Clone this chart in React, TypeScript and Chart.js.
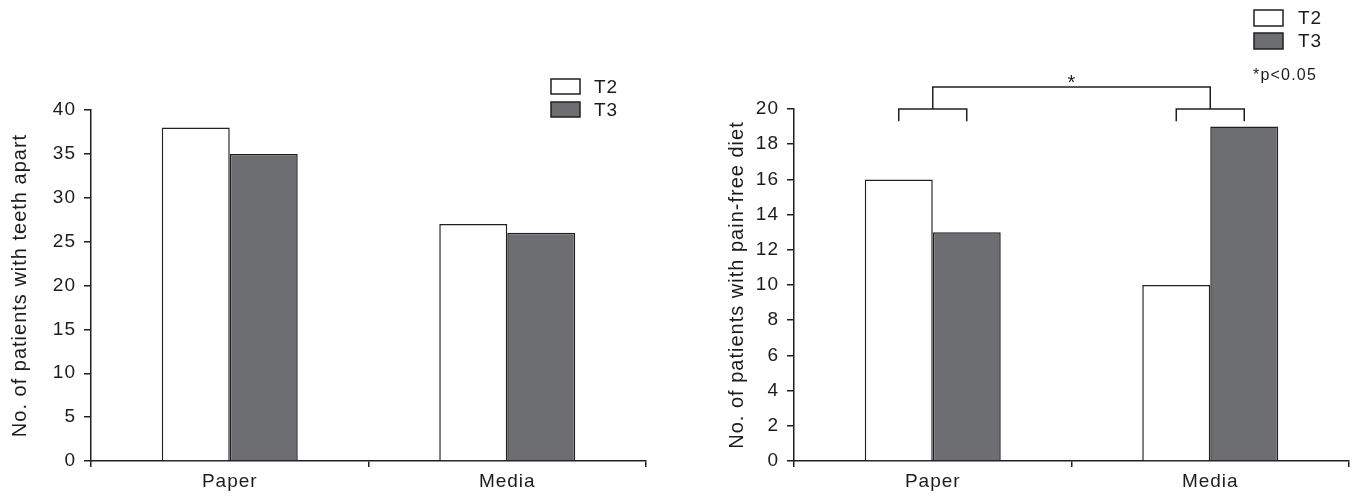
import React, { useEffect, useRef } from "react";
import { Chart, registerables } from "chart.js";

Chart.register(...registerables);

// ---------- data ----------
const categories = ["Paper", "Media"];
const seriesLabels = ["T2", "T3"];
const teethApartT2 = [38, 27];
const teethApartT3 = [35, 26];
const painFreeT2 = [16, 10];
const painFreeT3 = [13, 19];
const leftAxis = { min: 0, max: 40, step: 5, title: "No. of patients with teeth apart" };
const rightAxis = { min: 0, max: 20, step: 2, title: "No. of patients with pain-free diet" };
const sigMark = "*";
const sigNote = "*p<0.05";
// bracket levels (in data units of the right chart)
const bracketLevels = { leg: 19.3, bar: 20, top: 21.25 };

// ---------- styles ----------
const TEXT = "#1f1b1c";
const AXIS = "#231f20";
const FILL_T2 = "#ffffff";
const FILL_T3 = "#6d6e71";
const FAMILY = "'Liberation Sans', Arial, sans-serif";
const FONT_SIZE = 19;
const TITLE_SIZE = 20;
const SPACING = "1px";

const spacingPlugin = {
  id: "letterSpacing",
  beforeUpdate(chart: any) {
    (chart.ctx as any).letterSpacing = SPACING;
  },
  beforeDraw(chart: any) {
    (chart.ctx as any).letterSpacing = SPACING;
  },
};

const legendPlugin = {
  id: "boxLegend",
  afterDraw(chart: any, _args: any, opts: any) {
    const ctx = chart.ctx;
    chart.data.datasets.forEach((ds: any, i: number) => {
      const y = opts.y + i * opts.gap;
      ctx.save();
      ctx.fillStyle = ds.backgroundColor;
      ctx.strokeStyle = ds.borderColor;
      ctx.lineWidth = 1.5;
      ctx.fillRect(opts.x, y, opts.w, opts.h);
      ctx.strokeRect(opts.x, y, opts.w, opts.h);
      ctx.fillStyle = TEXT;
      ctx.font = `${FONT_SIZE}px ${FAMILY}`;
      (ctx as any).letterSpacing = SPACING;
      ctx.textBaseline = "middle";
      ctx.textAlign = "left";
      ctx.fillText(ds.label, opts.x + opts.w + opts.textGap, y + opts.h / 2 + 1);
      ctx.restore();
    });
    if (opts.note) {
      ctx.save();
      ctx.fillStyle = TEXT;
      ctx.font = `16px ${FAMILY}`;
      (ctx as any).letterSpacing = "1.2px";
      ctx.textBaseline = "alphabetic";
      ctx.textAlign = "left";
      ctx.fillText(opts.note, opts.noteX, opts.noteY);
      ctx.restore();
    }
  },
};

const bracketPlugin = {
  id: "sigBracket",
  afterDatasetsDraw(chart: any, _args: any, opts: any) {
    if (!opts || !opts.enabled) return;
    const ctx = chart.ctx;
    const ys = chart.scales.y;
    const a = chart.getDatasetMeta(0).data;
    const b = chart.getDatasetMeta(1).data;
    const yLeg = ys.getPixelForValue(bracketLevels.leg);
    const yBar = ys.getPixelForValue(bracketLevels.bar);
    const yTop = ys.getPixelForValue(bracketLevels.top);
    ctx.save();
    ctx.strokeStyle = AXIS;
    ctx.lineWidth = 1.5;
    const mids: number[] = [];
    for (let i = 0; i < a.length; i++) {
      const x1 = a[i].x;
      const x2 = b[i].x;
      const mid = (x1 + x2) / 2;
      mids.push(mid);
      ctx.beginPath();
      ctx.moveTo(x1, yLeg);
      ctx.lineTo(x1, yBar);
      ctx.lineTo(x2, yBar);
      ctx.lineTo(x2, yLeg);
      ctx.stroke();
    }
    ctx.beginPath();
    ctx.moveTo(mids[0], yBar);
    ctx.lineTo(mids[0], yTop);
    ctx.lineTo(mids[mids.length - 1], yTop);
    ctx.lineTo(mids[mids.length - 1], yBar);
    ctx.stroke();
    ctx.fillStyle = TEXT;
    ctx.font = `20px ${FAMILY}`;
    (ctx as any).letterSpacing = "0px";
    ctx.textAlign = "center";
    ctx.textBaseline = "alphabetic";
    ctx.fillText(sigMark, (mids[0] + mids[mids.length - 1]) / 2, yTop + 2);
    ctx.restore();
  },
};

function makeConfig(
  t2: number[],
  t3: number[],
  axis: { min: number; max: number; step: number; title: string },
  layoutPad: { left: number; right: number; top: number },
  yWidth: number,
  legendOpts: any,
  bracket: boolean
): any {
  const font = { family: FAMILY, size: FONT_SIZE };
  return {
    type: "bar",
    data: {
      labels: categories,
      datasets: [
        {
          label: seriesLabels[0],
          data: t2,
          backgroundColor: FILL_T2,
          borderColor: AXIS,
          borderWidth: 1.5,
          categoryPercentage: 0.49,
          barPercentage: 1.0,
        },
        {
          label: seriesLabels[1],
          data: t3,
          backgroundColor: FILL_T3,
          borderColor: AXIS,
          borderWidth: 1.5,
          categoryPercentage: 0.49,
          barPercentage: 1.0,
        },
      ],
    },
    options: {
      responsive: false,
      animation: false,
      devicePixelRatio: 1,
      layout: { padding: { left: layoutPad.left, right: layoutPad.right, top: layoutPad.top, bottom: 0 } },
      plugins: {
        legend: { display: false },
        tooltip: { enabled: false },
        title: { display: false },
        boxLegend: legendOpts,
        sigBracket: { enabled: bracket },
      },
      scales: {
        x: {
          ticks: { color: TEXT, font, padding: 3 },
          grid: {
            offset: true,
            drawOnChartArea: false,
            drawTicks: true,
            tickLength: 6,
            color: AXIS,
            lineWidth: 1.5,
          },
          border: { display: true, color: AXIS, width: 1.5 },
          afterFit: (s: any) => {
            s.height = 35;
          },
        },
        y: {
          min: axis.min,
          max: axis.max,
          ticks: { stepSize: axis.step, color: TEXT, font, padding: 8 },
          grid: {
            drawOnChartArea: false,
            drawTicks: true,
            tickLength: 7,
            color: AXIS,
            lineWidth: 1.5,
          },
          border: { display: true, color: AXIS, width: 1.5 },
          title: {
            display: true,
            text: axis.title,
            color: TEXT,
            font: { family: FAMILY, size: TITLE_SIZE },
            padding: { top: 0, bottom: 0 },
          },
          afterFit: (s: any) => {
            s.width = yWidth;
          },
        },
      },
    },
    plugins: [spacingPlugin, legendPlugin, bracketPlugin],
  };
}

export default function App() {
  const leftRef = useRef<HTMLCanvasElement | null>(null);
  const rightRef = useRef<HTMLCanvasElement | null>(null);

  useEffect(() => {
    const left = new Chart(
      leftRef.current as HTMLCanvasElement,
      makeConfig(
        teethApartT2,
        teethApartT3,
        leftAxis,
        { left: 8, right: 32, top: 110 },
        83,
        { x: 551, y: 79, w: 29, h: 15, gap: 23, textGap: 14 },
        false
      )
    );
    const right = new Chart(
      rightRef.current as HTMLCanvasElement,
      makeConfig(
        painFreeT2,
        painFreeT3,
        rightAxis,
        { left: 47, right: 7, top: 109 },
        69,
        { x: 576, y: 10, w: 29, h: 16, gap: 23, textGap: 15, note: sigNote, noteX: 575, noteY: 80 },
        true
      )
    );
    return () => {
      left.destroy();
      right.destroy();
    };
  }, []);

  return (
    <div style={{ position: "absolute", left: 0, top: 0, width: 1356, height: 496, background: "#fff" }}>
      <canvas ref={leftRef} width={678} height={496} style={{ position: "absolute", left: 0, top: 0 }} />
      <canvas ref={rightRef} width={678} height={496} style={{ position: "absolute", left: 678, top: 0 }} />
    </div>
  );
}
